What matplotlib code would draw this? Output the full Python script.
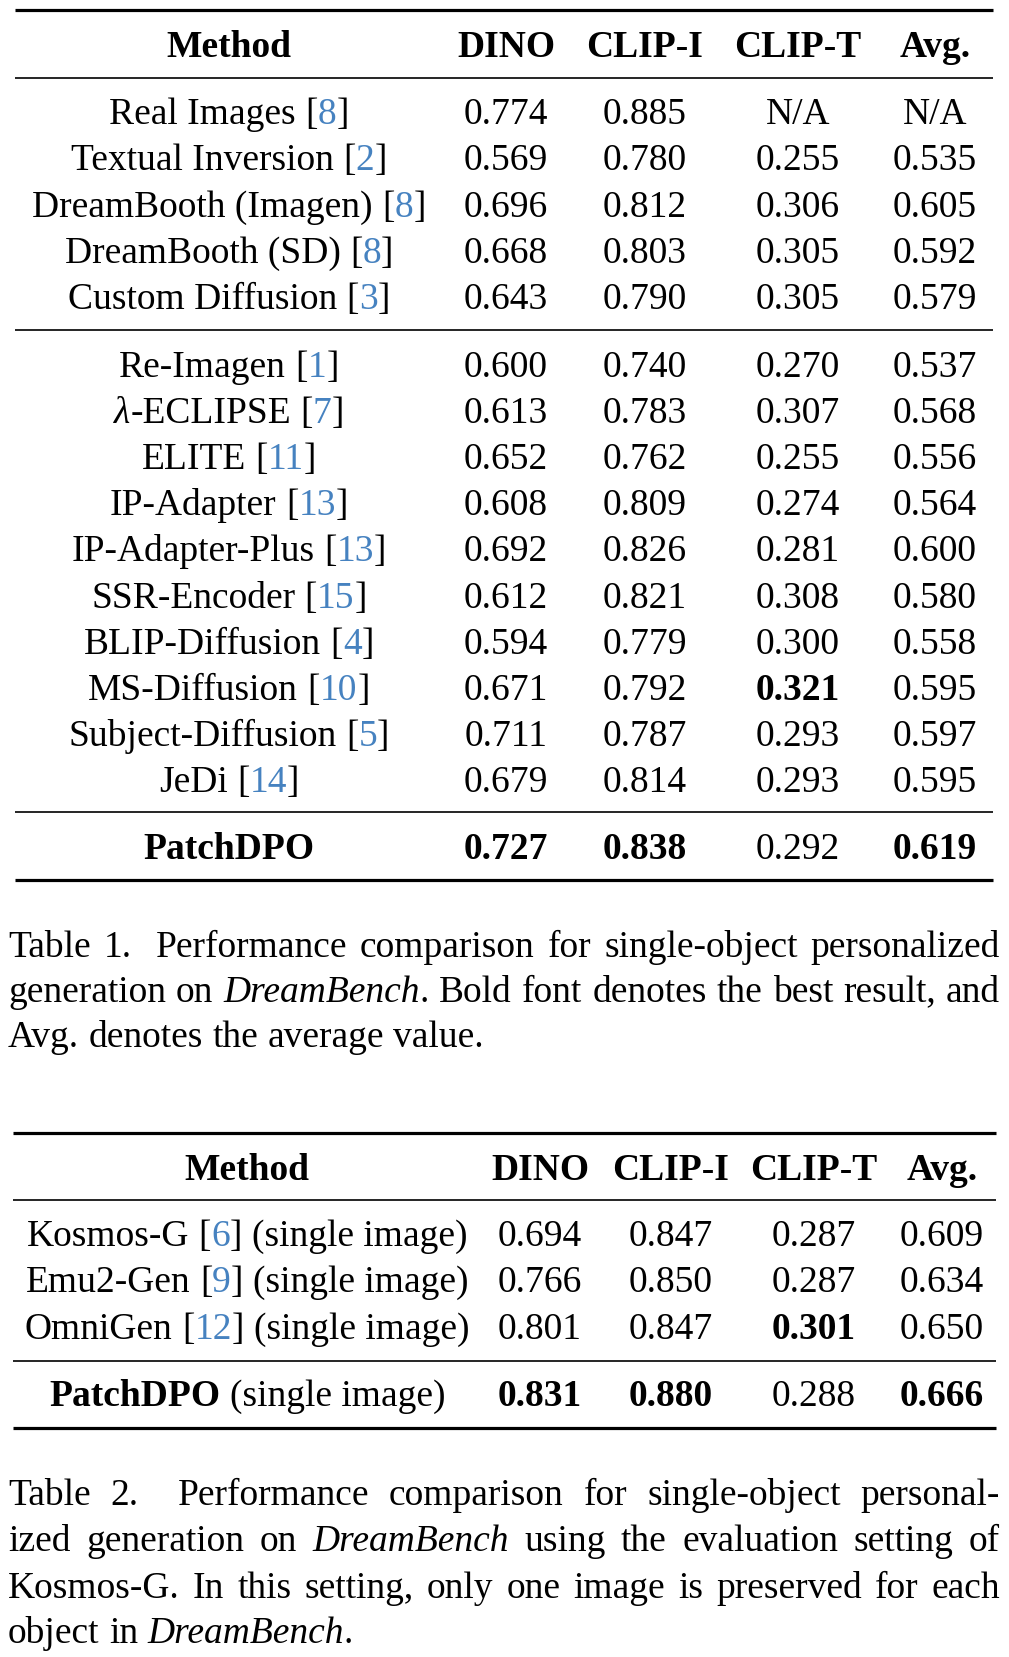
import matplotlib
matplotlib.use('Agg')
import matplotlib.pyplot as plt

# ---- table 1 data ----
methods1 = ["Real Images", "Textual Inversion", "DreamBooth (Imagen)", "DreamBooth (SD)",
            "Custom Diffusion", "Re-Imagen", "λ-ECLIPSE", "ELITE", "IP-Adapter",
            "IP-Adapter-Plus", "SSR-Encoder", "BLIP-Diffusion", "MS-Diffusion",
            "Subject-Diffusion", "JeDi", "PatchDPO"]
cites1 = ["8", "2", "8", "8", "3", "1", "7", "11", "13", "13", "15", "4", "10", "5", "14", None]
dino1 = [0.774, 0.569, 0.696, 0.668, 0.643, 0.600, 0.613, 0.652, 0.608, 0.692, 0.612, 0.594,
         0.671, 0.711, 0.679, 0.727]
clipi1 = [0.885, 0.780, 0.812, 0.803, 0.790, 0.740, 0.783, 0.762, 0.809, 0.826, 0.821, 0.779,
          0.792, 0.787, 0.814, 0.838]
clipt1 = [None, 0.255, 0.306, 0.305, 0.305, 0.270, 0.307, 0.255, 0.274, 0.281, 0.308, 0.300,
          0.321, 0.293, 0.293, 0.292]
avg1 = [None, 0.535, 0.605, 0.592, 0.579, 0.537, 0.568, 0.556, 0.564, 0.600, 0.580, 0.558,
        0.595, 0.597, 0.595, 0.619]
bold1 = [(12, 2), (15, 0), (15, 1), (15, 3)]

# ---- table 2 data ----
methods2 = ["Kosmos-G", "Emu2-Gen", "OmniGen", "PatchDPO"]
cites2 = ["6", "9", "12", None]
dino2 = [0.694, 0.766, 0.801, 0.831]
clipi2 = [0.847, 0.850, 0.847, 0.880]
clipt2 = [0.287, 0.287, 0.301, 0.288]
avg2 = [0.609, 0.634, 0.650, 0.666]
bold2 = [(2, 2), (3, 0), (3, 1), (3, 3)]

headers = ["Method", "DINO", "CLIP-I", "CLIP-T", "Avg."]

caption1 = ["Table 1.  Performance comparison for single-object personalized",
            "generation on *DreamBench*. Bold font denotes the best result, and",
            "Avg. denotes the average value."]
caption2 = ["Table 2.  Performance comparison for single-object personal-",
            "ized generation on *DreamBench* using the evaluation setting of",
            "Kosmos-G. In this setting, only one image is preserved for each",
            "object in *DreamBench*."]

W, H = 1009, 1658
FONT = 'Liberation Serif'
FS = 27
BLUE = '#4682c0'

fig = plt.figure(figsize=(W / 100, H / 100), dpi=100)
ax = fig.add_axes([0, 0, 1, 1])
ax.set_xlim(0, W)
ax.set_ylim(H, 0)
ax.axis('off')
renderer = fig.canvas.get_renderer()


def measure(s, weight='normal', style='normal'):
    t = ax.text(0, 0, s, fontsize=FS, family=FONT, weight=weight, style=style)
    w = t.get_window_extent(renderer).width
    t.remove()
    return w


SPACE = measure('a a') - measure('aa')


def draw_pieces(pieces, x, y, ha='center'):
    # pieces: (text, weight, style, color); ' ' means one space
    widths = [SPACE if p[0] == ' ' else measure(p[0], p[1], p[2]) for p in pieces]
    x0 = x - sum(widths) / 2 if ha == 'center' else x
    for p, w in zip(pieces, widths):
        if p[0] != ' ':
            ax.text(x0, y, p[0], fontsize=FS, family=FONT, weight=p[1], style=p[2],
                    color=p[3], ha='left', va='baseline')
        x0 += w


def method_pieces(name, cite, bold=False, suffix=None):
    wt = 'bold' if bold else 'normal'
    if name.startswith('λ'):
        pcs = [('λ', wt, 'italic', 'k'), (name[1:], wt, 'normal', 'k')]
    else:
        pcs = [(name, wt, 'normal', 'k')]
    if cite:
        pcs += [(' ', wt, 'normal', 'k'), ('[', 'normal', 'normal', 'k'),
                (cite, 'normal', 'normal', BLUE), (']', 'normal', 'normal', 'k')]
    if suffix:
        pcs += [(' ', 'normal', 'normal', 'k'), (suffix, 'normal', 'normal', 'k')]
    return pcs


def rule(y, x0, x1, thick):
    ax.plot([x0, x1], [y, y], color='k', lw=2.3 if thick else 1.2, solid_capstyle='butt')


def draw_table(rows, header_y, row_ys, col_x, bold, rules, xr, suffix=None):
    for j, h in enumerate(headers):
        ax.text(col_x[j], header_y, h, fontsize=FS, family=FONT, weight='bold',
                ha='center', va='baseline')
    names, cites, cols = rows
    for i, (name, cite) in enumerate(zip(names, cites)):
        y = row_ys[i]
        is_bold = cite is None
        draw_pieces(method_pieces(name, cite, is_bold, suffix), col_x[0], y)
        for j, col in enumerate(cols):
            v = col[i]
            txt = 'N/A' if v is None else '%.3f' % v
            ax.text(col_x[j + 1], y, txt, fontsize=FS, family=FONT,
                    weight='bold' if (i, j) in bold else 'normal', ha='center', va='baseline')
    for y, thick in rules:
        rule(y, xr[0], xr[1], thick)


def draw_caption(lines, ys, x0, x1, label_extra=19):
    for k, (line, y) in enumerate(zip(lines, ys)):
        words, extras, pending = [], [], 0
        for tok in line.split(' '):
            if tok == '':
                pending += label_extra
                continue
            if words:
                extras.append(pending)
            pending = 0
            parts = tok.split('*')
            words.append([(p, 'italic' if n % 2 else 'normal') for n, p in enumerate(parts) if p])
        wws = [[measure(p, 'normal', st) for p, st in w] for w in words]
        total = sum(sum(w) for w in wws) + sum(extras)
        last = k == len(lines) - 1
        g = SPACE if last else (x1 - x0 - total) / max(len(words) - 1, 1)
        x = x0
        for n, (w, ww) in enumerate(zip(words, wws)):
            for (p, st), pw in zip(w, ww):
                ax.text(x, y, p, fontsize=FS, family=FONT, style=st, ha='left', va='baseline')
                x += pw
            if n < len(extras):
                x += g + extras[n]


# table 1
ys1 = [124 + 46.25 * i for i in range(5)] + [377 + 46.1 * i for i in range(10)] + [859]
draw_table((methods1, cites1, [dino1, clipi1, clipt1, avg1]), 57, ys1,
           [229, 506, 645, 798, 935], bold1,
           [(11, True), (79, False), (331, False), (813, False), (881, True)], (15, 993))
draw_caption(caption1, [957, 1002, 1047], 8, 1000, label_extra=11)

# table 2
ys2 = [1246, 1292, 1339, 1406]
draw_table((methods2, cites2, [dino2, clipi2, clipt2, avg2]), 1180, ys2,
           [247, 540, 671, 814, 942], bold2,
           [(1134, True), (1201, False), (1362, False), (1429, True)], (13, 996),
           suffix='(single image)')
draw_caption(caption2, [1505, 1551, 1598, 1643], 8, 1000, label_extra=19)

fig.savefig('out.png', dpi=100)
